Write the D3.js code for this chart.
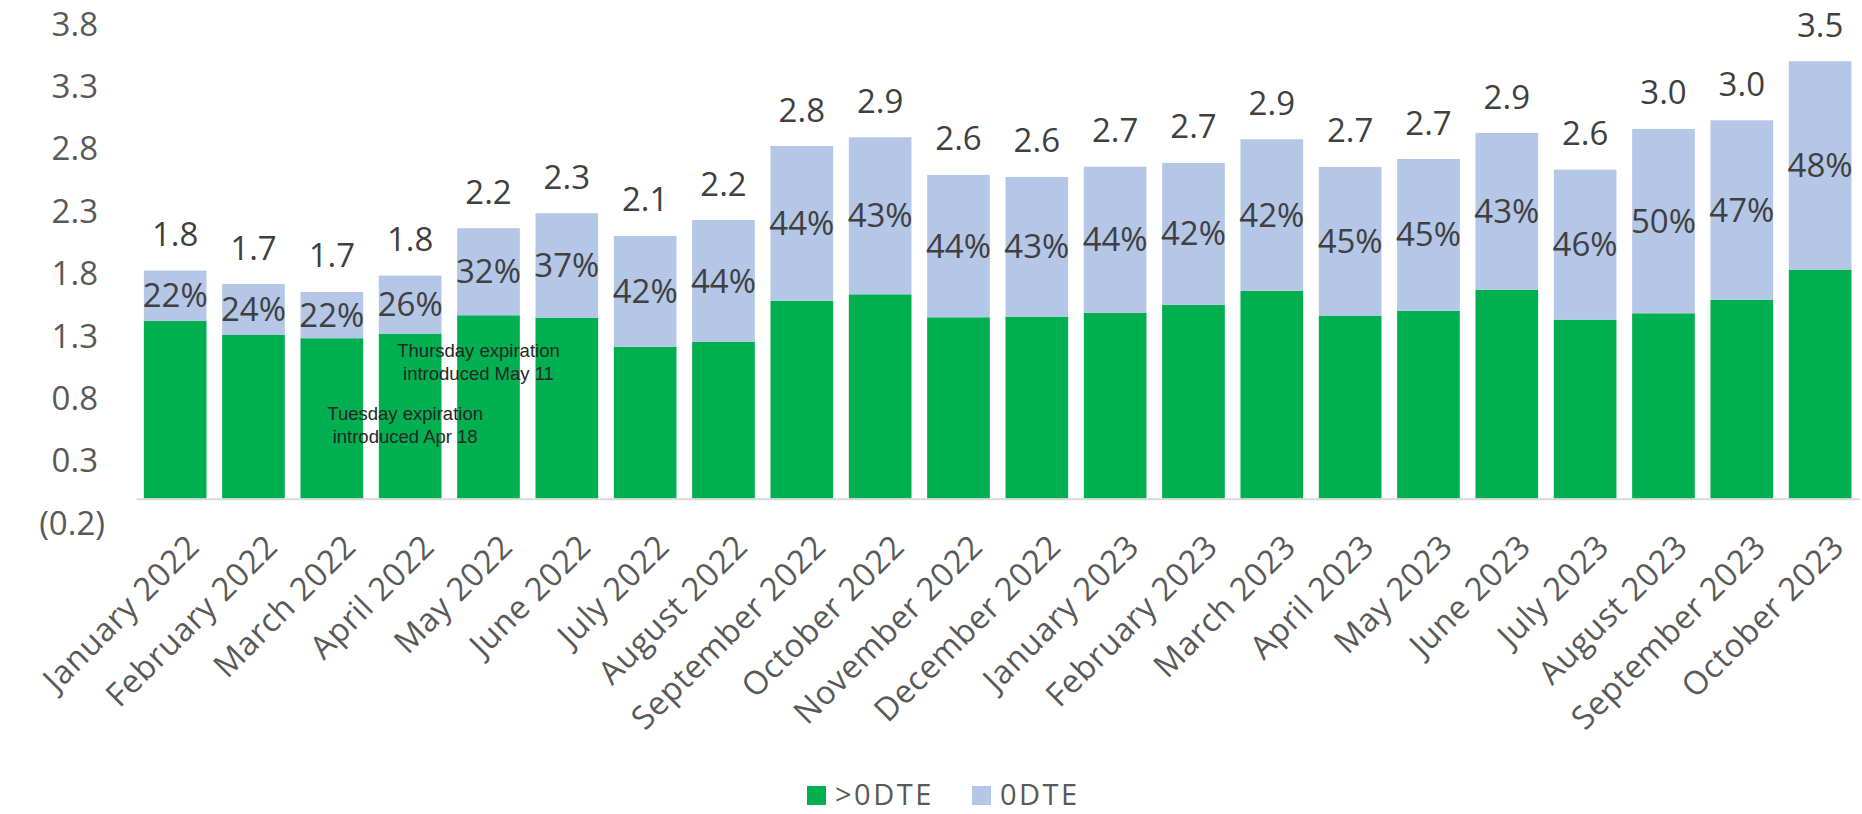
<!DOCTYPE html>
<html>
<head>
<meta charset="utf-8">
<script src="https://cdn.jsdelivr.net/npm/d3@7"></script>
<style>
  body { margin: 0; background: #fff; }
  svg { display: block; }
</style>
</head>
<body>
<div id="chart"></div>
<script>
// months on the x axis
const months = [
  "January 2022", "February 2022", "March 2022", "April 2022", "May 2022", "June 2022",
  "July 2022", "August 2022", "September 2022", "October 2022", "November 2022", "December 2022",
  "January 2023", "February 2023", "March 2023", "April 2023", "May 2023", "June 2023",
  "July 2023", "August 2023", "September 2023", "October 2023"
];
// >0DTE volume (bottom, green)
const overZero = [1.424, 1.312, 1.286, 1.323, 1.470, 1.451, 1.218, 1.256, 1.587, 1.638, 1.454,
  1.459, 1.491, 1.553, 1.667, 1.467, 1.505, 1.673, 1.435, 1.486, 1.595, 1.836];
// 0DTE volume (top, light blue)
const zeroDte = [0.404, 0.409, 0.371, 0.465, 0.698, 0.837, 0.888, 0.978, 1.240, 1.259, 1.141,
  1.120, 1.170, 1.138, 1.214, 1.192, 1.218, 1.258, 1.202, 1.478, 1.438, 1.670];
const seriesNames = [">0DTE", "0DTE"];
const yTicks = [-0.2, 0.3, 0.8, 1.3, 1.8, 2.3, 2.8, 3.3, 3.8];
// text notes, anchored on a month and a value
const notes = [
  { month: "May 2022", shift: -10, value: 1.135, lines: ["Thursday expiration", "introduced May 11"] },
  { month: "April 2022", shift: -5, value: 0.63, lines: ["Tuesday expiration", "introduced Apr 18"] }
];

const width = 1862;
const height = 814;
const colors = ["#00AF50", "#B4C7E7"];
const font = "'Open Sans', sans-serif";

const svg = d3.select("#chart").append("svg")
  .attr("width", width)
  .attr("height", height);

const rows = months.map((m, i) => ({ month: m, ">0DTE": overZero[i], "0DTE": zeroDte[i] }));
const stacked = d3.stack().keys(seriesNames)(rows);

const x = d3.scaleBand()
  .domain(months)
  .range([136, 1859.3])
  .paddingInner(0.2)
  .paddingOuter(0.1);

const y = d3.scaleLinear()
  .domain([-0.2, 3.8])
  .range([523.6, 24.6]);

// y axis labels
const yFmt = v => v < 0 ? "(" + d3.format(".1f")(-v) + ")" : d3.format(".1f")(v);
const yAxis = svg.append("g")
  .attr("transform", "translate(98,0)")
  .call(d3.axisLeft(y).tickValues(yTicks).tickSize(0).tickPadding(0).tickFormat(yFmt));
yAxis.select(".domain").remove();
yAxis.selectAll("text")
  .attr("x", d => d < 0 ? 7 : 0)
  .attr("font-family", font)
  .attr("font-size", 33)
  .attr("fill", "#595959");

// bars
svg.append("g")
  .selectAll("g")
  .data(stacked)
  .join("g")
  .attr("fill", (d, i) => colors[i])
  .selectAll("rect")
  .data(d => d)
  .join("rect")
  .attr("x", d => x(d.data.month))
  .attr("width", x.bandwidth())
  .attr("y", d => y(d[1]))
  .attr("height", d => y(d[0]) - y(d[1]));

// x axis
const xAxis = svg.append("g")
  .attr("transform", `translate(0,${y(0)})`)
  .call(d3.axisBottom(x).tickSize(0).tickSizeOuter(0));
xAxis.select(".domain")
  .attr("stroke", "#D9D9D9")
  .attr("stroke-width", 2);
xAxis.selectAll("text")
  .attr("y", null)
  .attr("dy", "0.35em")
  .attr("transform", "translate(18,42) rotate(-45)")
  .attr("text-anchor", "end")
  .attr("font-family", font)
  .attr("font-size", 32.5)
  .attr("letter-spacing", 0.6)
  .attr("fill", "#595959");

// percent share of 0DTE inside the top segment
const pct = d3.format(".0%");
svg.append("g")
  .selectAll("text")
  .data(stacked[1])
  .join("text")
  .attr("x", d => x(d.data.month) + x.bandwidth() / 2)
  .attr("y", d => (y(d[0]) + y(d[1])) / 2)
  .attr("dy", "0.35em")
  .attr("text-anchor", "middle")
  .attr("font-family", font)
  .attr("font-size", 33)
  .attr("fill", "#404040")
  .text(d => pct(d.data["0DTE"] / d[1]));

// totals above the bars
svg.append("g")
  .selectAll("text")
  .data(stacked[1])
  .join("text")
  .attr("x", d => x(d.data.month) + x.bandwidth() / 2)
  .attr("y", d => y(d[1]) - 36)
  .attr("dy", "0.35em")
  .attr("text-anchor", "middle")
  .attr("font-family", font)
  .attr("font-size", 33)
  .attr("fill", "#404040")
  .text(d => d3.format(".1f")(d[1]));

// notes
notes.forEach(n => {
  const t = svg.append("text")
    .attr("x", x(n.month) + x.bandwidth() / 2 + n.shift)
    .attr("y", y(n.value))
    .attr("text-anchor", "middle")
    .attr("font-family", "'Liberation Sans', Arial, sans-serif")
    .attr("font-size", 18.5)
    .attr("fill", "#262626");
  n.lines.forEach((l, i) => {
    t.append("tspan")
      .attr("x", x(n.month) + x.bandwidth() / 2 + n.shift)
      .attr("dy", i === 0 ? 0 : 23)
      .text(l);
  });
});

// legend
const legend = svg.append("g").attr("transform", "translate(807,786)");
const legendX = [0, 165];
seriesNames.forEach((s, i) => {
  const g = legend.append("g").attr("transform", `translate(${legendX[i]},0)`);
  g.append("rect")
    .attr("width", 19)
    .attr("height", 19)
    .attr("fill", colors[i]);
  g.append("text")
    .attr("x", 28)
    .attr("y", 18.5)
    .attr("font-family", font)
    .attr("font-size", 29)
    .attr("letter-spacing", 2.5)
    .attr("fill", "#595959")
    .text(s);
});
</script>
</body>
</html>
